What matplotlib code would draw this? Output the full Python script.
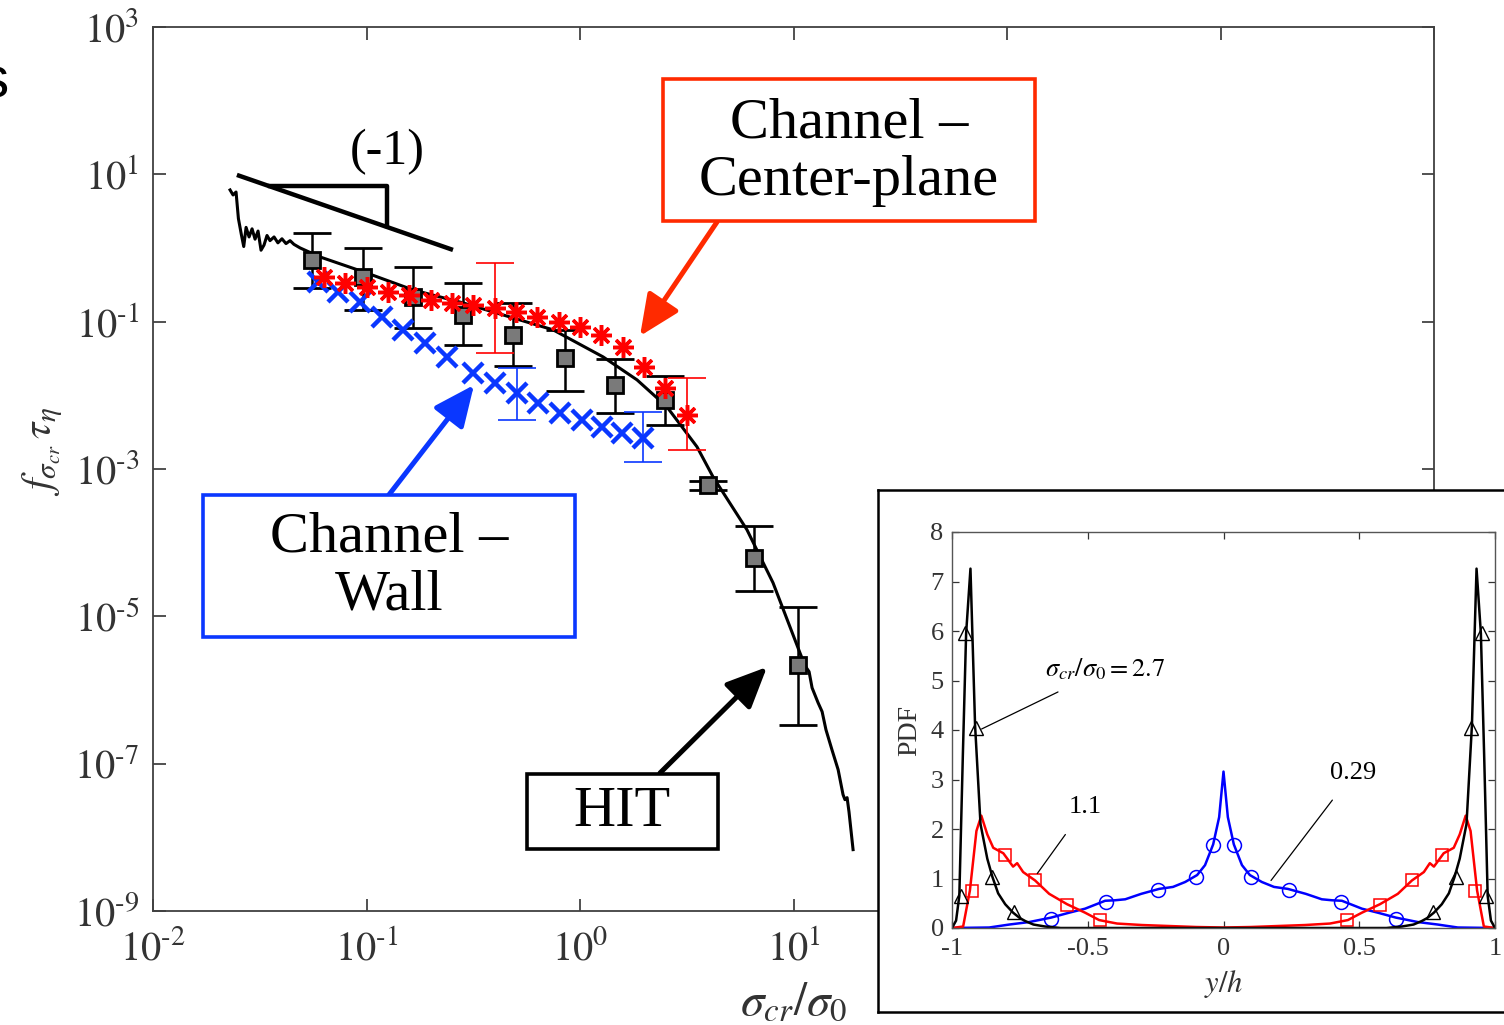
import numpy as np
import matplotlib
matplotlib.use("Agg")
import matplotlib.pyplot as plt
from matplotlib.patches import Rectangle, FancyArrowPatch
from matplotlib.ticker import NullLocator

plt.rcParams['font.family'] = ['Liberation Serif', 'DejaVu Serif']
plt.rcParams['mathtext.fontset'] = 'stix'

# ---- main panel data (stored as log10 values) ----
# HIT DNS curve
hit_line_logx = np.array([-1.639, -1.625, -1.611, -1.600, -1.586, -1.575, -1.564, -1.550, -1.536,
                          -1.522, -1.508, -1.494, -1.480, -1.466, -1.452, -1.433, -1.415, -1.396,
                          -1.377, -1.358, -1.340, -1.311, -1.218, -1.0, -0.782, -0.548, -0.361,
                          -0.126, 0.108, 0.267, 0.407, 0.548, 0.623, 0.782, 0.904, 1.030, 1.054,
                          1.073, 1.087, 1.115, 1.134, 1.152, 1.180, 1.209, 1.232, 1.241, 1.251,
                          1.260, 1.279])
hit_line_logy = np.array([0.788, 0.720, 0.760, 0.400, 0.180, 0.020, 0.280, 0.150, 0.260, 0.120,
                          0.230, -0.030, 0.040, 0.170, 0.100, 0.150, 0.070, 0.125, 0.060, 0.100,
                          0.050, 0.001, -0.121, -0.338, -0.569, -0.745, -0.908, -1.111, -1.478,
                          -1.790, -2.156, -2.699, -3.106, -3.825, -4.544, -5.494, -5.670, -5.752,
                          -5.970, -6.172, -6.294, -6.539, -6.810, -7.081, -7.420, -7.489, -7.461,
                          -7.655, -8.167])

# HIT particle data with error bars
hit_logx = np.array([-1.255, -1.016, -0.782, -0.548, -0.314, -0.070, 0.164, 0.398, 0.600, 0.815, 1.021])
hit_logy = np.array([-0.161, -0.392, -0.663, -0.908, -1.179, -1.491, -1.858, -2.061, -3.214, -4.205, -5.657])
hit_top_logy = np.array([0.205, 0.001, -0.256, -0.474, -0.745, -1.111, -1.505, -1.735, -3.160, -3.771, -4.870])
hit_bot_logy = np.array([-0.541, -0.840, -1.084, -1.315, -1.600, -1.939, -2.237, -2.400, -3.282, -4.653, -6.471])

# Channel - center-plane
center_logx = np.array([-1.2, -1.1, -1.0, -0.9, -0.8, -0.7, -0.6, -0.5, -0.4, -0.3, -0.2, -0.1,
                        0.0, 0.1, 0.2, 0.3, 0.4, 0.5])
center_logy = np.array([-0.392, -0.474, -0.528, -0.596, -0.636, -0.704, -0.745, -0.772, -0.813,
                        -0.867, -0.935, -1.003, -1.071, -1.179, -1.342, -1.613, -1.898, -2.265])
center_err_logx = np.array([-0.4, 0.5])
center_err_logy = np.array([-0.813, -2.265])
center_err_top = np.array([-0.202, -1.763])
center_err_bot = np.array([-1.423, -2.739])

# Channel - wall
wall_logx = np.array([-1.227, -1.133, -1.030, -0.927, -0.829, -0.726, -0.623, -0.501, -0.398,
                      -0.295, -0.197, -0.094, 0.009, 0.103, 0.197, 0.295])
wall_logy = np.array([-0.460, -0.596, -0.731, -0.935, -1.111, -1.288, -1.478, -1.695, -1.830,
                      -1.966, -2.102, -2.237, -2.332, -2.427, -2.509, -2.577])
wall_err_logx = np.array([-0.295, 0.295])
wall_err_logy = np.array([-1.966, -2.577])
wall_err_top = np.array([-1.627, -2.224])
wall_err_bot = np.array([-2.332, -2.902])

# slope guide (-1)
slope_logx = np.array([-1.607, -0.595])
slope_logy = np.array([0.992, -0.026])
tri_logx = np.array([-1.452, -0.904, -0.904])
tri_logy = np.array([0.843, 0.843, 0.300])

x_exps = [-2, -1, 0, 1, 2, 3, 4]
x_labelled = [-2, -1, 0, 1]   # the rest sit behind the inset
y_exps = [-9, -7, -5, -3, -1, 1, 3]

# ---- inset data: PDF vs y/h ----
b_x = [-1.0, -0.985, -0.973, -0.96, -0.948, -0.932, -0.915, -0.895, -0.87, -0.851, -0.83, -0.804,
       -0.775, -0.75, -0.73, -0.70, -0.657, -0.60, 0.60, 0.657, 0.70, 0.73, 0.75, 0.775, 0.804,
       0.83, 0.851, 0.87, 0.895, 0.915, 0.932, 0.948, 0.96, 0.973, 0.985, 1.0]
b_y = [0, 0.15, 0.65, 3.5, 5.95, 7.26, 4.09, 2.10, 1.40, 1.03, 0.70, 0.48, 0.31, 0.20, 0.14,
       0.07, 0.03, 0, 0, 0.03, 0.07, 0.14, 0.20, 0.31, 0.48, 0.70, 1.03, 1.40, 2.10, 4.09, 7.26,
       5.95, 3.5, 0.65, 0.15, 0]
b_mx = [-0.967, -0.952, -0.912, -0.852, -0.772, 0.772, 0.855, 0.910, 0.952, 0.967]
b_my = [0.64, 5.96, 4.04, 1.03, 0.32, 0.32, 1.03, 4.04, 5.96, 0.64]

r_x = [-1.0, -0.959, -0.934, -0.910, -0.892, -0.870, -0.848, -0.811, -0.775, -0.760, -0.738,
       -0.694, -0.642, -0.576, -0.510, -0.458, -0.392, -0.30, -0.20, -0.10, 0.0, 0.10, 0.20,
       0.30, 0.392, 0.458, 0.510, 0.576, 0.642, 0.694, 0.738, 0.760, 0.775, 0.811, 0.848,
       0.870, 0.892, 0.910, 0.934, 0.959, 1.0]
r_y = [0, 0.03, 0.76, 1.96, 2.27, 1.89, 1.62, 1.51, 1.24, 1.31, 1.13, 0.96, 0.69, 0.48, 0.31,
       0.16, 0.09, 0.06, 0.04, 0.02, 0.01, 0.02, 0.04, 0.06, 0.09, 0.16, 0.31, 0.48, 0.69, 0.96,
       1.13, 1.31, 1.24, 1.51, 1.62, 1.89, 2.27, 1.96, 0.76, 0.03, 0]
r_mx = [-0.926, -0.805, -0.694, -0.576, -0.455, 0.455, 0.576, 0.694, 0.805, 0.926]
r_my = [0.75, 1.47, 0.97, 0.47, 0.16, 0.16, 0.47, 0.97, 1.47, 0.75]

c_x = [-1.0, -0.863, -0.789, -0.716, -0.635, -0.568, -0.510, -0.436, -0.40, -0.362, -0.33,
       -0.303, -0.237, -0.186, -0.141, -0.097, -0.068, -0.038, -0.016, 0.0, 0.016, 0.038, 0.068,
       0.097, 0.141, 0.186, 0.237, 0.303, 0.33, 0.362, 0.40, 0.436, 0.510, 0.568, 0.635, 0.716,
       0.789, 0.863, 1.0]
c_y = [0, 0.01, 0.07, 0.12, 0.21, 0.31, 0.39, 0.55, 0.56, 0.58, 0.64, 0.69, 0.79, 0.83, 0.93,
       1.07, 1.27, 1.69, 2.24, 3.16, 2.24, 1.69, 1.27, 1.07, 0.93, 0.83, 0.79, 0.69, 0.64, 0.58,
       0.56, 0.55, 0.39, 0.31, 0.21, 0.12, 0.07, 0.01, 0]
c_mx = [-0.635, -0.433, -0.241, -0.101, -0.039, 0.039, 0.101, 0.241, 0.433, 0.635]
c_my = [0.18, 0.52, 0.77, 1.04, 1.68, 1.68, 1.04, 0.77, 0.52, 0.18]

W, H = 1504, 1025
RED = '#ff2a00'
BLUE = '#0a37ff'


def fp(px, py):
    # pixel position -> figure fraction
    return (px / W, 1 - py / H)


fig = plt.figure(figsize=(W / 100, H / 100), dpi=100)
ax = fig.add_axes([153 / W, 1 - 911 / H, (1434 - 153) / W, (911 - 27) / H])

ax.plot(10 ** hit_line_logx, 10 ** hit_line_logy, color='k', lw=2.2, zorder=3)
ax.errorbar(10 ** hit_logx, 10 ** hit_logy,
            yerr=[10 ** hit_logy - 10 ** hit_bot_logy, 10 ** hit_top_logy - 10 ** hit_logy],
            fmt='s', color='k', mfc='#7a7a7a', mec='k', mew=2, ms=12, ecolor='k',
            elinewidth=1.8, capsize=14, capthick=1.8, zorder=4)
ax.plot(10 ** wall_logx, 10 ** wall_logy, 'x', color=BLUE, ms=14, mew=3.2, zorder=5)
ax.errorbar(10 ** wall_err_logx, 10 ** wall_err_logy,
            yerr=[10 ** wall_err_logy - 10 ** wall_err_bot, 10 ** wall_err_top - 10 ** wall_err_logy],
            fmt='none', ecolor=BLUE, elinewidth=1.2, capsize=14, capthick=1.2, zorder=5)
ax.errorbar(10 ** center_err_logx, 10 ** center_err_logy,
            yerr=[10 ** center_err_logy - 10 ** center_err_bot, 10 ** center_err_top - 10 ** center_err_logy],
            fmt='none', ecolor='red', elinewidth=1.2, capsize=14, capthick=1.2, zorder=6)
ax.plot(10 ** center_logx, 10 ** center_logy, linestyle='none', marker=(8, 2, 0),
        color='red', ms=15, mew=2.5, zorder=6)

ax.plot(10 ** slope_logx, 10 ** slope_logy, color='k', lw=3.2, solid_capstyle='butt')
ax.plot(10 ** tri_logx, 10 ** tri_logy, color='k', lw=3.2)
ax.text(10 ** -0.904, 10 ** 1.304, '(-1)', fontsize=36, ha='center', va='center')

ax.set_xscale('log')
ax.set_yscale('log')
ax.set_xlim(1e-2, 1e4)
ax.set_ylim(1e-9, 1e3)
ax.set_xticks([10.0 ** e for e in x_exps])
ax.set_xticklabels([r'$10^{\text{%d}}$' % e if e in x_labelled else '' for e in x_exps])
ax.set_yticks([10.0 ** e for e in y_exps])
ax.set_yticklabels([r'$10^{\text{%d}}$' % e for e in y_exps])
ax.xaxis.set_minor_locator(NullLocator())
ax.yaxis.set_minor_locator(NullLocator())
ax.tick_params(direction='in', top=True, right=True, length=9, width=1.2,
               labelsize=29, colors='#333333')
ax.tick_params(axis='x', pad=14)
ax.tick_params(axis='y', pad=10)
for s in ax.spines.values():
    s.set_color('#404040')
    s.set_linewidth(1.3)
ax.set_xlabel(r'$\sigma_{cr}/\sigma_0$', fontsize=34, color='#333333', labelpad=10)
ax.set_ylabel(r'$f_{\sigma_{cr}}\,\tau_\eta$', fontsize=30, color='#333333')
ax.yaxis.set_label_coords(-0.069, 0.52)


# label boxes
def label_box(x0, y0, x1, y1, color, text, cx, cy):
    fx0, fy1 = fp(x0, y1)
    fig.add_artist(Rectangle((fx0, fy1), (x1 - x0) / W, (y1 - y0) / H,
                             transform=fig.transFigure, facecolor='white',
                             edgecolor=color, lw=2.6, zorder=7))
    fig.text(*fp(cx, cy), text, fontsize=42, ha='center', va='center',
             linespacing=1.15, zorder=8)


def arrow(p0, p1, color):
    fig.add_artist(FancyArrowPatch(fp(*p0), fp(*p1), transform=fig.transFigure,
                                   arrowstyle='-|>,head_length=1.0,head_width=0.45',
                                   mutation_scale=25, lw=3.6, color=color,
                                   shrinkA=0, shrinkB=0, zorder=7))


arrow((717, 222), (640, 336), RED)
arrow((388, 496), (474, 385), BLUE)
arrow((660, 773), (767, 667), 'k')
label_box(663, 79, 1035, 221, RED, 'Channel –\nCenter-plane', 849, 152)
label_box(203, 495, 575, 637, BLUE, 'Channel –\nWall', 389, 567)
label_box(527, 774, 718, 849, 'k', 'HIT', 622, 812)

fig.text(*fp(-6, 97), 's', fontsize=42, family='Liberation Sans', ha='center', va='baseline')

# ---- inset ----
box = fig.add_axes([878 / W, 1 - 1012 / H, (1512 - 878) / W, (1012 - 490) / H], zorder=9)
box.set_xticks([])
box.set_yticks([])
for s in box.spines.values():
    s.set_color('k')
    s.set_linewidth(1.8)

ins = fig.add_axes([952 / W, 1 - 928 / H, (1495 - 952) / W, (928 - 532) / H], zorder=10)
ins.plot(c_x, c_y, color='blue', lw=1.8)
ins.plot(c_mx, c_my, 'o', color='blue', mfc='none', ms=10, mew=1.1)
ins.plot(r_x, r_y, color='red', lw=1.8)
ins.plot(r_mx, r_my, 's', color='red', mfc='none', ms=8, mew=1.1)
ins.plot(b_x, b_y, color='k', lw=1.8)
ins.plot(b_mx, b_my, '^', color='k', mfc='none', ms=10, mew=1.0)

ins.annotate(r'$\sigma_{cr}/\sigma_0 = 2.7$', xy=(-0.891, 4.02), xytext=(-0.436, 5.23),
             fontsize=19, ha='center', va='center',
             arrowprops=dict(arrowstyle='-', color='k', lw=0.9, shrinkA=12, shrinkB=0))
ins.annotate('1.1', xy=(-0.686, 1.10), xytext=(-0.510, 2.44), fontsize=19,
             ha='center', va='center',
             arrowprops=dict(arrowstyle='-', color='k', lw=0.9, shrinkA=12, shrinkB=0))
ins.annotate('0.29', xy=(0.175, 0.96), xytext=(0.477, 3.13), fontsize=19,
             ha='center', va='center',
             arrowprops=dict(arrowstyle='-', color='k', lw=0.9, shrinkA=12, shrinkB=0))

ins.set_xlim(-1, 1)
ins.set_ylim(0, 8)
ins.set_xticks([-1, -0.5, 0, 0.5, 1])
ins.set_xticklabels(['-1', '-0.5', '0', '0.5', '1'])
ins.set_yticks(range(9))
ins.tick_params(direction='in', top=True, right=True, length=5, width=0.9,
                labelsize=19, colors='#333333')
ins.tick_params(axis='x', pad=7)
ins.tick_params(axis='y', pad=6)
for s in ins.spines.values():
    s.set_color('#555555')
    s.set_linewidth(1.0)
ins.set_xlabel(r'$y/h$', fontsize=22, color='#333333', labelpad=6)
ins.set_ylabel('PDF', fontsize=20, color='#333333', labelpad=6)

fig.savefig('out.png', dpi=100)
